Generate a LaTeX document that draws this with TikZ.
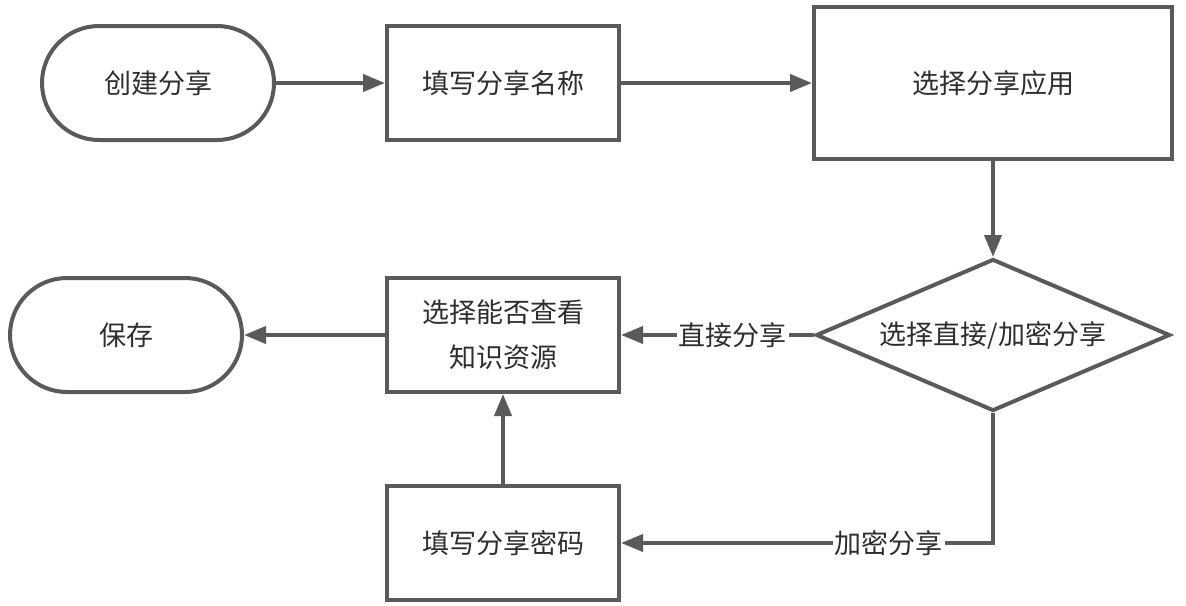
\documentclass[tikz,border=0pt]{standalone}
\usepackage{fontspec}
\setmainfont{Noto Sans CJK SC}
\usetikzlibrary{arrows.meta,shapes.geometric}
\definecolor{ln}{HTML}{5A5A5A}
\definecolor{tx}{HTML}{2E2E2E}
\begin{document}
\begin{tikzpicture}[x=0.5pt,y=-0.5pt,
  every node/.style={text=tx,font=\fontsize{13.5}{22.5}\selectfont},
  box/.style={draw=ln,line width=2pt,fill=white,minimum width=116pt,minimum height=57pt,align=center,inner sep=0pt},
  term/.style={box,rounded corners=28.5pt},
  dia/.style={draw=ln,line width=2pt,fill=white,diamond,aspect=2.32,minimum width=177pt,minimum height=76pt,inner sep=0pt},
  conn/.style={draw=ln,line width=2pt,-{Triangle[length=11pt,width=8.5pt]}},
  lbl/.style={fill=white,inner sep=1pt}]
\useasboundingbox (0,0) rectangle (1186,605);
\node[term] (start) at (158,83) {创建分享};
\node[box] (name) at (503,83) {填写分享名称};
\node[box,minimum width=179pt,minimum height=76pt] (app) at (993,83) {选择分享应用};
\node[dia] (choice) at (993,335) {选择直接/加密分享};
\node[box] (view) at (503,335) {选择能否查看\\知识资源};
\node[term] (save) at (126,335) {保存};
\node[box] (pwd) at (503,543) {填写分享密码};
\coordinate (corner) at (993,543);
\draw[conn] (start) -- (name);
\draw[conn] (name) -- (app);
\draw[conn] (app) -- (choice);
\draw[conn] (choice) -- node[lbl,pos=0.42]{直接分享} (view);
\draw[conn] (choice.south) -- (corner) -- node[lbl,pos=0.28]{加密分享} (pwd);
\draw[conn] (pwd) -- (view);
\draw[conn] (view) -- (save);
\end{tikzpicture}
\end{document}
